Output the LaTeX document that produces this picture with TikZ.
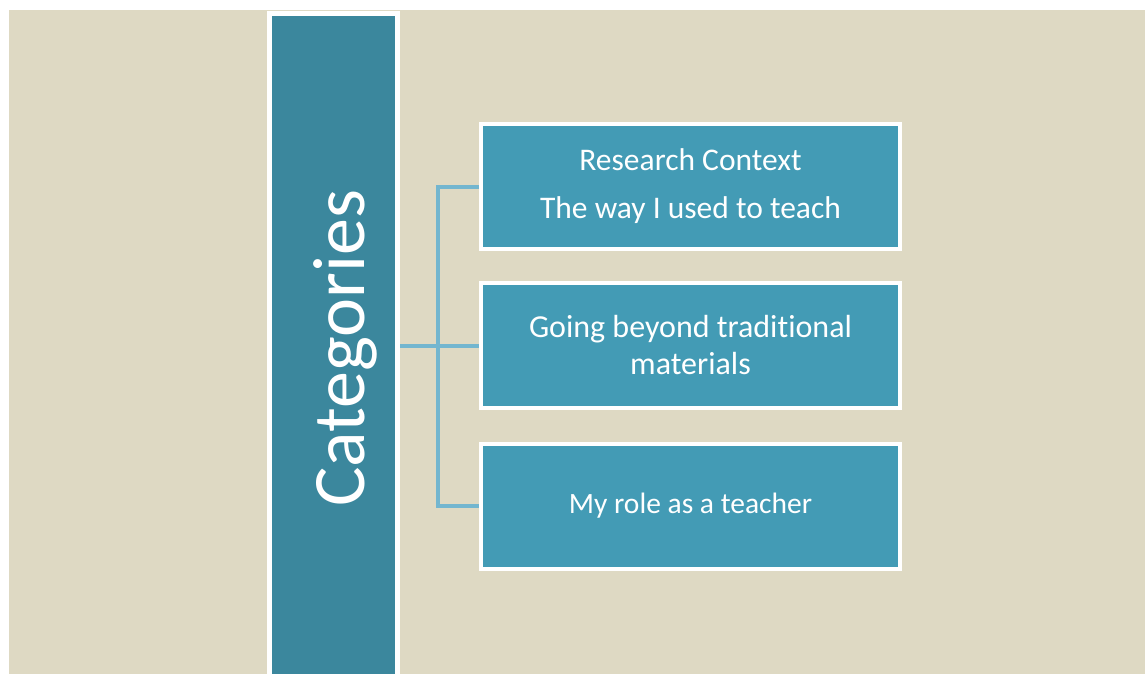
\documentclass[tikz,border=0pt]{standalone}
\usepackage{fontspec}
\setmainfont{Carlito}[Ligatures={NoCommon}]
\definecolor{sand}{RGB}{222,217,195}
\definecolor{barteal}{RGB}{59,135,157}
\definecolor{boxteal}{RGB}{67,155,181}
\definecolor{linkblue}{RGB}{115,182,207}
\tikzset{
  bar/.style={draw=white, line width=5, fill=barteal, inner sep=0},
  catbox/.style={draw=white, line width=4, fill=boxteal, text=white, align=center,
    minimum width=419, minimum height=125},
  link/.style={linkblue, line width=4}
}
\begin{document}
\begin{tikzpicture}[x=1pt, y=-1pt]

\useasboundingbox (0,0) rectangle (1145,674);
\clip (0,0) rectangle (1145,674);
\fill [white] (0,0) rectangle (1145,674);
\fill [sand] (9,10) rectangle (1145,674);

\node [bar, minimum width=128, minimum height=666.5] (cat) at (333.5,346.75) {};
\node [rotate=90, anchor=base, text=white, font=\fontsize{74}{80}\selectfont] (cattext) at (364,348.5) {Categories};

\node [catbox, font=\fontsize{31.5}{38}\selectfont] (box1) at (690.5,186.5) {Research Context\\[10pt]The way I used to teach};
\node [catbox, font=\fontsize{32}{37}\selectfont] (box2) at (690.5,345.5) {Going beyond traditional\\materials};
\node [catbox, font=\fontsize{29.5}{35}\selectfont] (box3) at (690.5,506) {My role as a teacher};

\coordinate (trunk) at (438,347);
\draw [link] (cat.east |- box2.west) -- (box2.west);
\draw [link] (box1.west) -| (trunk) |- (box3.west);

\end{tikzpicture}
\end{document}
